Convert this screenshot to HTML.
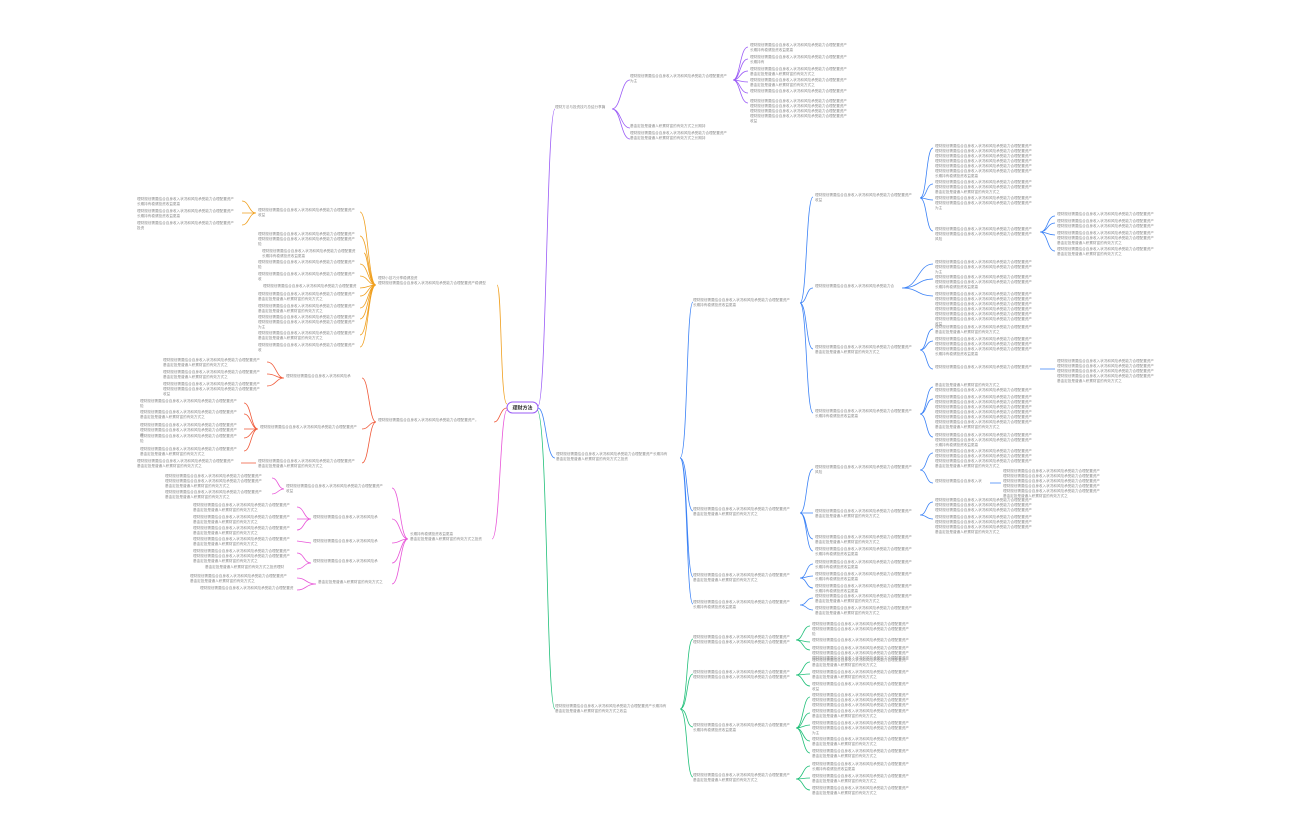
<!DOCTYPE html>
<html><head><meta charset="utf-8"><style>
html,body{margin:0;padding:0;background:#fff;}
svg{display:block}
text{font-family:"Liberation Sans","Noto Sans CJK SC",sans-serif;font-size:3.6px;fill:#8c8c8c}
path{fill:none;stroke-width:0.8}
</style></head><body>
<svg width="1296" height="840" viewBox="0 0 1296 840" xmlns="http://www.w3.org/2000/svg">
<g stroke="#9b5cf6"><path d="M538 406 C546.5 406 546.5 109 555 109 M612 109 C621 109 621 80 630 80 M612 109 C621 109 621 128 630 128 M612 109 C621 109 621 139 630 139 M733 80 C740 80 740 47 748 47 M733 80 C740 80 740 59 748 59 M733 80 C740 80 740 71 748 71 M733 80 C740 80 740 82 748 82 M733 80 C740 80 740 93 748 93 M733 80 C740 80 740 103 748 103"/></g>
<g stroke="#3b82f6"><path d="M538 408 C546 408 546 458 555 458 M680 458 C688 458 686 302 693 302 M680 458 C688 458 686 511 693 511 M680 458 C688 458 686 577 693 577 M680 458 C688 458 686 604 693 604
M800 303 C807 303 806 197 813 197 M800 303 C807 303 806 288 813 288 M800 303 C807 303 806 349 813 349 M800 303 C807 303 806 413 813 413
M920 198 C927 198 926 148 933 148 M920 198 C927 198 926 184 933 184 M920 198 C927 198 926 200 933 200 M920 198 C927 198 926 231 933 231
M1040 232 C1048 232 1047 216 1055 216 M1040 232 C1048 232 1047 223 1055 223 M1040 232 C1048 232 1047 235 1055 235 M1040 232 C1048 232 1047 251 1055 251
M902 288 C918 288 918 264 933 264 M902 288 C918 288 918 279 933 279 M902 288 C918 288 918 296 933 296
M920 350 C927 350 926 329 933 329 M920 350 C927 350 926 341 933 341 M920 350 C927 350 926 369 933 369 M1040 369 L1055 369
M920 414 C927 414 926 387 933 387 M920 414 C927 414 926 399 933 399 M920 414 C927 414 926 437 933 437
M800 513 C807 513 806 469 813 469 M800 513 C807 513 806 513 813 513 M800 513 C807 513 806 539 813 539 M800 513 C807 513 806 551 813 551
M920 470 C927 470 926 453 933 453 M920 470 C927 470 926 483 933 483 M990 483 L1001 483
M920 515 C927 515 926 502 933 502 M920 515 C927 515 926 519 933 519
M800 578 C807 578 806 564 813 564 M800 578 C807 578 806 576 813 576 M800 578 C807 578 806 588 813 588
M800 605 C807 605 806 598 813 598 M800 605 C807 605 806 610 813 610"/></g>
<g stroke="#22c07a"><path d="M537 410 C548 410 546 709 555 709 M680 709 C688 709 686 639 693 639 M680 709 C688 709 686 674 693 674 M680 709 C688 709 686 727 693 727 M680 709 C688 709 686 777 693 777
M796 640 C803 640 803 626 810 626 M796 640 C803 640 803 642 810 642 M796 640 C803 640 803 650 810 650
M796 675 C803 675 803 662 810 662 M796 675 C803 675 803 674 810 674 M796 675 C803 675 803 686 810 686
M796 728 C803 728 803 697 810 697 M796 728 C803 728 803 713 810 713 M796 728 C803 728 803 725 810 725 M796 728 C803 728 803 741 810 741 M796 728 C803 728 803 753 810 753
M796 779 C803 779 803 766 810 766 M796 779 C803 779 803 778 810 778 M796 779 C803 779 803 790 810 790"/></g>
<g stroke="#f0a020"><path d="M507 404 C500 404 502 285 497 285 M376 285 C368 285 368 212 360 212 M376 285 C368 285 368 236 360 236 M376 285 C368 285 368 253 364 253 M376 285 C368 285 368 264 360 264 M376 285 C368 285 368 276 360 276 M376 285 C368 285 368 288 360 288 M376 285 C368 285 368 296 360 296 M376 285 C368 285 368 308 360 308 M376 285 C368 285 368 319 360 319 M376 285 C368 285 368 335 360 335 M376 285 C368 285 368 347 360 347
M256 213 C249 213 249 201 242 201 M256 213 L242 213 M256 213 C249 213 249 225 242 225"/></g>
<g stroke="#f05a3a"><path d="M507 408 C500 408 500 422 494 422 M376 422 C369 422 369 378 362 378 M376 422 C369 422 369 429 362 429 M376 422 C369 422 369 463 362 463
M284 378 C276 378 276 362 267 362 M284 378 C276 378 276 374 267 374 M284 378 C276 378 276 386 267 386
M258 429 C251 429 251 403 244 403 M258 429 C251 429 251 414 244 414 M258 429 L244 429 M258 429 C251 429 251 438 244 438 M258 429 C251 429 251 451 244 451 M256 463 L241 463"/></g>
<g stroke="#e855d8"><path d="M507 410 C500 410 500 539 492 539 M408 539 C400 539 400 488 392 488 M408 539 C400 539 400 519 392 519 M408 539 C400 539 400 543 392 543 M408 539 C400 539 400 563 392 563 M408 539 C400 539 400 584 392 584
M284 489 C278 489 278 478 272 478 M284 489 C278 489 278 494 272 494
M311 519 C304 519 304 507 297 507 M311 519 L297 519 M311 519 C304 519 304 530 297 530 M311 543 L297 541 M311 563 C304 563 304 553 297 553 M311 563 C304 563 304 569 297 569 M316 584 C306 584 306 578 297 578 M316 584 C306 584 306 590 297 590"/></g>

<rect x="507" y="402" width="31" height="11" rx="5.5" fill="#fff" stroke="#9b5cf6" stroke-width="1"/>
<text x="522.5" y="409.5" text-anchor="middle" style="font-size:5px;font-weight:bold;fill:#333">理财方法</text>

<text x="555" y="108">理财方法与投资技巧总结分享篇</text>
<text x="630" y="77">理财规划需要结合自身收入状况和风险承受能力合理配置资产<tspan x="630" dy="5">为主</tspan></text>
<text x="630" y="127">基金定投是普通人积累财富的有效方式之长期持</text>
<text x="630" y="134">理财规划需要结合自身收入状况和风险承受能力合理配置资产<tspan x="630" dy="5">基金定投是普通人积累财富的有效方式之长期持</tspan></text>
<text x="750" y="46">理财规划需要结合自身收入状况和风险承受能力合理配置资产<tspan x="750" dy="5">长期持有稳健投资收益更高</tspan></text>
<text x="750" y="58">理财规划需要结合自身收入状况和风险承受能力合理配置资产<tspan x="750" dy="5">长期持有</tspan></text>
<text x="750" y="70">理财规划需要结合自身收入状况和风险承受能力合理配置资产<tspan x="750" dy="5">基金定投是普通人积累财富的有效方式之</tspan></text>
<text x="750" y="81">理财规划需要结合自身收入状况和风险承受能力合理配置资产<tspan x="750" dy="5">基金定投是普通人积累财富的有效方式之</tspan></text>
<text x="750" y="92">理财规划需要结合自身收入状况和风险承受能力合理配置资产</text>
<text x="750" y="102">理财规划需要结合自身收入状况和风险承受能力合理配置资产<tspan x="750" dy="5">理财规划需要结合自身收入状况和风险承受能力合理配置资产</tspan><tspan x="750" dy="5">理财规划需要结合自身收入状况和风险承受能力合理配置资产</tspan><tspan x="750" dy="5">理财规划需要结合自身收入状况和风险承受能力合理配置资产</tspan><tspan x="750" dy="5">收益</tspan></text>

<text x="556" y="455">理财规划需要结合自身收入状况和风险承受能力合理配置资产长期持有<tspan x="556" dy="5">基金定投是普通人积累财富的有效方式之投资</tspan></text>
<text x="693" y="301">理财规划需要结合自身收入状况和风险承受能力合理配置资产<tspan x="693" dy="5">长期持有稳健投资收益更高</tspan></text>
<text x="693" y="510">理财规划需要结合自身收入状况和风险承受能力合理配置资产<tspan x="693" dy="5">基金定投是普通人积累财富的有效方式之</tspan></text>
<text x="693" y="576">理财规划需要结合自身收入状况和风险承受能力合理配置资产<tspan x="693" dy="5">基金定投是普通人积累财富的有效方式之</tspan></text>
<text x="693" y="603">理财规划需要结合自身收入状况和风险承受能力合理配置资产<tspan x="693" dy="5">长期持有稳健投资收益更高</tspan></text>
<text x="815" y="196">理财规划需要结合自身收入状况和风险承受能力合理配置资产<tspan x="815" dy="5">收益</tspan></text>
<text x="815" y="287">理财规划需要结合自身收入状况和风险承受能力合</text>
<text x="815" y="348">理财规划需要结合自身收入状况和风险承受能力合理配置资产<tspan x="815" dy="5">基金定投是普通人积累财富的有效方式之</tspan></text>
<text x="815" y="412">理财规划需要结合自身收入状况和风险承受能力合理配置资产<tspan x="815" dy="5">长期持有稳健投资收益更高</tspan></text>
<text x="935" y="147">理财规划需要结合自身收入状况和风险承受能力合理配置资产<tspan x="935" dy="5">理财规划需要结合自身收入状况和风险承受能力合理配置资产</tspan><tspan x="935" dy="5">理财规划需要结合自身收入状况和风险承受能力合理配置资产</tspan><tspan x="935" dy="5">理财规划需要结合自身收入状况和风险承受能力合理配置资产</tspan><tspan x="935" dy="5">理财规划需要结合自身收入状况和风险承受能力合理配置资产</tspan><tspan x="935" dy="5">理财规划需要结合自身收入状况和风险承受能力合理配置资产</tspan><tspan x="935" dy="5">长期持有稳健投资收益更高</tspan></text>
<text x="935" y="183">理财规划需要结合自身收入状况和风险承受能力合理配置资产<tspan x="935" dy="5">理财规划需要结合自身收入状况和风险承受能力合理配置资产</tspan><tspan x="935" dy="5">基金定投是普通人积累财富的有效方式之</tspan></text>
<text x="935" y="199">理财规划需要结合自身收入状况和风险承受能力合理配置资产<tspan x="935" dy="5">理财规划需要结合自身收入状况和风险承受能力合理配置资产</tspan><tspan x="935" dy="5">为主</tspan></text>
<text x="935" y="230">理财规划需要结合自身收入状况和风险承受能力合理配置资产<tspan x="935" dy="5">理财规划需要结合自身收入状况和风险承受能力合理配置资产</tspan><tspan x="935" dy="5">风险</tspan></text>
<text x="1057" y="215">理财规划需要结合自身收入状况和风险承受能力合理配置资产</text>
<text x="1057" y="222">理财规划需要结合自身收入状况和风险承受能力合理配置资产<tspan x="1057" dy="5">理财规划需要结合自身收入状况和风险承受能力合理配置资产</tspan></text>
<text x="1057" y="234">理财规划需要结合自身收入状况和风险承受能力合理配置资产<tspan x="1057" dy="5">理财规划需要结合自身收入状况和风险承受能力合理配置资产</tspan><tspan x="1057" dy="5">基金定投是普通人积累财富的有效方式之</tspan></text>
<text x="1057" y="250">理财规划需要结合自身收入状况和风险承受能力合理配置资产<tspan x="1057" dy="5">基金定投是普通人积累财富的有效方式之</tspan></text>
<text x="935" y="263">理财规划需要结合自身收入状况和风险承受能力合理配置资产<tspan x="935" dy="5">理财规划需要结合自身收入状况和风险承受能力合理配置资产</tspan><tspan x="935" dy="5">为主</tspan></text>
<text x="935" y="278">理财规划需要结合自身收入状况和风险承受能力合理配置资产<tspan x="935" dy="5">理财规划需要结合自身收入状况和风险承受能力合理配置资产</tspan><tspan x="935" dy="5">长期持有稳健投资收益更高</tspan></text>
<text x="935" y="295">理财规划需要结合自身收入状况和风险承受能力合理配置资产<tspan x="935" dy="5">理财规划需要结合自身收入状况和风险承受能力合理配置资产</tspan><tspan x="935" dy="5">理财规划需要结合自身收入状况和风险承受能力合理配置资产</tspan><tspan x="935" dy="5">理财规划需要结合自身收入状况和风险承受能力合理配置资产</tspan><tspan x="935" dy="5">理财规划需要结合自身收入状况和风险承受能力合理配置资产</tspan><tspan x="935" dy="5">理财规划需要结合自身收入状况和风险承受能力合理配置资产</tspan><tspan x="935" dy="5">收益</tspan></text>
<text x="935" y="328">理财规划需要结合自身收入状况和风险承受能力合理配置资产<tspan x="935" dy="5">基金定投是普通人积累财富的有效方式之</tspan></text>
<text x="935" y="340">理财规划需要结合自身收入状况和风险承受能力合理配置资产<tspan x="935" dy="5">理财规划需要结合自身收入状况和风险承受能力合理配置资产</tspan><tspan x="935" dy="5">理财规划需要结合自身收入状况和风险承受能力合理配置资产</tspan><tspan x="935" dy="5">长期持有稳健投资收益更高</tspan></text>
<text x="935" y="368">理财规划需要结合自身收入状况和风险承受能力合理配置资产</text>
<text x="1057" y="362">理财规划需要结合自身收入状况和风险承受能力合理配置资产<tspan x="1057" dy="5">理财规划需要结合自身收入状况和风险承受能力合理配置资产</tspan><tspan x="1057" dy="5">理财规划需要结合自身收入状况和风险承受能力合理配置资产</tspan><tspan x="1057" dy="5">理财规划需要结合自身收入状况和风险承受能力合理配置资产</tspan><tspan x="1057" dy="5">基金定投是普通人积累财富的有效方式之</tspan></text>
<text x="935" y="386">基金定投是普通人积累财富的有效方式之<tspan x="935" dy="5">理财规划需要结合自身收入状况和风险承受能力合理配置资产</tspan></text>
<text x="935" y="398">理财规划需要结合自身收入状况和风险承受能力合理配置资产<tspan x="935" dy="5">理财规划需要结合自身收入状况和风险承受能力合理配置资产</tspan><tspan x="935" dy="5">理财规划需要结合自身收入状况和风险承受能力合理配置资产</tspan><tspan x="935" dy="5">理财规划需要结合自身收入状况和风险承受能力合理配置资产</tspan><tspan x="935" dy="5">理财规划需要结合自身收入状况和风险承受能力合理配置资产</tspan><tspan x="935" dy="5">理财规划需要结合自身收入状况和风险承受能力合理配置资产</tspan><tspan x="935" dy="5">基金定投是普通人积累财富的有效方式之</tspan></text>
<text x="935" y="436">理财规划需要结合自身收入状况和风险承受能力合理配置资产<tspan x="935" dy="5">理财规划需要结合自身收入状况和风险承受能力合理配置资产</tspan><tspan x="935" dy="5">长期持有稳健投资收益更高</tspan></text>
<text x="815" y="468">理财规划需要结合自身收入状况和风险承受能力合理配置资产<tspan x="815" dy="5">风险</tspan></text>
<text x="815" y="512">理财规划需要结合自身收入状况和风险承受能力合理配置资产<tspan x="815" dy="5">基金定投是普通人积累财富的有效方式之</tspan></text>
<text x="815" y="538">理财规划需要结合自身收入状况和风险承受能力合理配置资产<tspan x="815" dy="5">基金定投是普通人积累财富的有效方式之</tspan></text>
<text x="815" y="550">理财规划需要结合自身收入状况和风险承受能力合理配置资产<tspan x="815" dy="5">长期持有稳健投资收益更高</tspan></text>
<text x="935" y="452">理财规划需要结合自身收入状况和风险承受能力合理配置资产<tspan x="935" dy="5">理财规划需要结合自身收入状况和风险承受能力合理配置资产</tspan><tspan x="935" dy="5">理财规划需要结合自身收入状况和风险承受能力合理配置资产</tspan><tspan x="935" dy="5">基金定投是普通人积累财富的有效方式之</tspan></text>
<text x="935" y="482">理财规划需要结合自身收入状</text>
<text x="1003" y="472">理财规划需要结合自身收入状况和风险承受能力合理配置资产<tspan x="1003" dy="5">理财规划需要结合自身收入状况和风险承受能力合理配置资产</tspan><tspan x="1003" dy="5">理财规划需要结合自身收入状况和风险承受能力合理配置资产</tspan><tspan x="1003" dy="5">理财规划需要结合自身收入状况和风险承受能力合理配置资产</tspan><tspan x="1003" dy="5">理财规划需要结合自身收入状况和风险承受能力合理配置资产</tspan><tspan x="1003" dy="5">基金定投是普通人积累财富的有效方式之</tspan></text>
<text x="935" y="501">理财规划需要结合自身收入状况和风险承受能力合理配置资产<tspan x="935" dy="5">理财规划需要结合自身收入状况和风险承受能力合理配置资产</tspan><tspan x="935" dy="5">理财规划需要结合自身收入状况和风险承受能力合理配置资产</tspan></text>
<text x="935" y="518">理财规划需要结合自身收入状况和风险承受能力合理配置资产<tspan x="935" dy="5">理财规划需要结合自身收入状况和风险承受能力合理配置资产</tspan><tspan x="935" dy="5">理财规划需要结合自身收入状况和风险承受能力合理配置资产</tspan><tspan x="935" dy="5">基金定投是普通人积累财富的有效方式之</tspan></text>
<text x="815" y="563">理财规划需要结合自身收入状况和风险承受能力合理配置资产<tspan x="815" dy="5">长期持有稳健投资收益更高</tspan></text>
<text x="815" y="575">理财规划需要结合自身收入状况和风险承受能力合理配置资产<tspan x="815" dy="5">长期持有稳健投资收益更高</tspan></text>
<text x="815" y="587">理财规划需要结合自身收入状况和风险承受能力合理配置资产<tspan x="815" dy="5">长期持有稳健投资收益更高</tspan></text>
<text x="815" y="597">理财规划需要结合自身收入状况和风险承受能力合理配置资产<tspan x="815" dy="5">基金定投是普通人积累财富的有效方式之</tspan></text>
<text x="815" y="609">理财规划需要结合自身收入状况和风险承受能力合理配置资产<tspan x="815" dy="5">基金定投是普通人积累财富的有效方式之</tspan></text>

<text x="555" y="707">理财规划需要结合自身收入状况和风险承受能力合理配置资产长期持有<tspan x="555" dy="5">基金定投是普通人积累财富的有效方式之收益</tspan></text>
<text x="693" y="638">理财规划需要结合自身收入状况和风险承受能力合理配置资产<tspan x="693" dy="5">理财规划需要结合自身收入状况和风险承受能力合理配置资产</tspan></text>
<text x="693" y="673">理财规划需要结合自身收入状况和风险承受能力合理配置资产<tspan x="693" dy="5">理财规划需要结合自身收入状况和风险承受能力合理配置资产</tspan></text>
<text x="693" y="726">理财规划需要结合自身收入状况和风险承受能力合理配置资产<tspan x="693" dy="5">长期持有稳健投资收益更高</tspan></text>
<text x="693" y="776">理财规划需要结合自身收入状况和风险承受能力合理配置资产<tspan x="693" dy="5">基金定投是普通人积累财富的有效方式之</tspan></text>
<text x="812" y="625">理财规划需要结合自身收入状况和风险承受能力合理配置资产<tspan x="812" dy="5">理财规划需要结合自身收入状况和风险承受能力合理配置资产</tspan><tspan x="812" dy="5">险</tspan></text>
<text x="812" y="641">理财规划需要结合自身收入状况和风险承受能力合理配置资产</text>
<text x="812" y="649">理财规划需要结合自身收入状况和风险承受能力合理配置资产<tspan x="812" dy="5">理财规划需要结合自身收入状况和风险承受能力合理配置资产</tspan><tspan x="812" dy="5">理财规划需要结合自身收入状况和风险承受能力合理配置资产</tspan></text>
<text x="812" y="661">理财规划需要结合自身收入状况和风险承受能力合理配置资产<tspan x="812" dy="5">基金定投是普通人积累财富的有效方式之</tspan></text>
<text x="812" y="673">理财规划需要结合自身收入状况和风险承受能力合理配置资产<tspan x="812" dy="5">基金定投是普通人积累财富的有效方式之</tspan></text>
<text x="812" y="685">理财规划需要结合自身收入状况和风险承受能力合理配置资产<tspan x="812" dy="5">收益</tspan></text>
<text x="812" y="696">理财规划需要结合自身收入状况和风险承受能力合理配置资产<tspan x="812" dy="5">理财规划需要结合自身收入状况和风险承受能力合理配置资产</tspan><tspan x="812" dy="5">理财规划需要结合自身收入状况和风险承受能力合理配置资产</tspan></text>
<text x="812" y="712">理财规划需要结合自身收入状况和风险承受能力合理配置资产<tspan x="812" dy="5">基金定投是普通人积累财富的有效方式之</tspan></text>
<text x="812" y="724">理财规划需要结合自身收入状况和风险承受能力合理配置资产<tspan x="812" dy="5">理财规划需要结合自身收入状况和风险承受能力合理配置资产</tspan><tspan x="812" dy="5">为主</tspan></text>
<text x="812" y="740">理财规划需要结合自身收入状况和风险承受能力合理配置资产<tspan x="812" dy="5">基金定投是普通人积累财富的有效方式之</tspan></text>
<text x="812" y="752">理财规划需要结合自身收入状况和风险承受能力合理配置资产<tspan x="812" dy="5">基金定投是普通人积累财富的有效方式之</tspan></text>
<text x="812" y="765">理财规划需要结合自身收入状况和风险承受能力合理配置资产<tspan x="812" dy="5">长期持有稳健投资收益更高</tspan></text>
<text x="812" y="777">理财规划需要结合自身收入状况和风险承受能力合理配置资产<tspan x="812" dy="5">基金定投是普通人积累财富的有效方式之</tspan></text>
<text x="812" y="789">理财规划需要结合自身收入状况和风险承受能力合理配置资产<tspan x="812" dy="5">基金定投是普通人积累财富的有效方式之</tspan></text>

<text x="378" y="279">理财小技巧分享稳健投资<tspan x="378" dy="5">理财规划需要结合自身收入状况和风险承受能力合理配置资产稳健型</tspan></text>
<text x="258" y="211">理财规划需要结合自身收入状况和风险承受能力合理配置资产<tspan x="258" dy="5">收益</tspan></text>
<text x="258" y="235">理财规划需要结合自身收入状况和风险承受能力合理配置资产<tspan x="258" dy="5">理财规划需要结合自身收入状况和风险承受能力合理配置资产</tspan><tspan x="258" dy="5">险</tspan></text>
<text x="262" y="252">理财规划需要结合自身收入状况和风险承受能力合理配置资<tspan x="262" dy="5">长期持有稳健投资收益更高</tspan></text>
<text x="258" y="263">理财规划需要结合自身收入状况和风险承受能力合理配置资产<tspan x="258" dy="5">险</tspan></text>
<text x="258" y="275">理财规划需要结合自身收入状况和风险承受能力合理配置资产<tspan x="258" dy="5">收</tspan></text>
<text x="263" y="287">理财规划需要结合自身收入状况和风险承受能力合理配置资</text>
<text x="258" y="295">理财规划需要结合自身收入状况和风险承受能力合理配置资产<tspan x="258" dy="5">基金定投是普通人积累财富的有效方式之</tspan></text>
<text x="258" y="307">理财规划需要结合自身收入状况和风险承受能力合理配置资产<tspan x="258" dy="5">基金定投是普通人积累财富的有效方式之</tspan></text>
<text x="258" y="318">理财规划需要结合自身收入状况和风险承受能力合理配置资产<tspan x="258" dy="5">理财规划需要结合自身收入状况和风险承受能力合理配置资产</tspan><tspan x="258" dy="5">为主</tspan></text>
<text x="258" y="334">理财规划需要结合自身收入状况和风险承受能力合理配置资产<tspan x="258" dy="5">基金定投是普通人积累财富的有效方式之</tspan></text>
<text x="258" y="346">理财规划需要结合自身收入状况和风险承受能力合理配置资产<tspan x="258" dy="5">收</tspan></text>
<text x="137" y="200">理财规划需要结合自身收入状况和风险承受能力合理配置资产<tspan x="137" dy="5">长期持有稳健投资收益更高</tspan></text>
<text x="137" y="212">理财规划需要结合自身收入状况和风险承受能力合理配置资产<tspan x="137" dy="5">长期持有稳健投资收益更高</tspan></text>
<text x="137" y="224">理财规划需要结合自身收入状况和风险承受能力合理配置资产<tspan x="137" dy="5">投资</tspan></text>

<text x="378" y="421">理财规划需要结合自身收入状况和风险承受能力合理配置资产。</text>
<text x="286" y="377">理财规划需要结合自身收入状况和风险承</text>
<text x="260" y="428">理财规划需要结合自身收入状况和风险承受能力合理配置资产</text>
<text x="258" y="462">理财规划需要结合自身收入状况和风险承受能力合理配置资产<tspan x="258" dy="5">基金定投是普通人积累财富的有效方式之</tspan></text>
<text x="163" y="361">理财规划需要结合自身收入状况和风险承受能力合理配置资产<tspan x="163" dy="5">基金定投是普通人积累财富的有效方式之</tspan></text>
<text x="163" y="373">理财规划需要结合自身收入状况和风险承受能力合理配置资产<tspan x="163" dy="5">基金定投是普通人积累财富的有效方式之</tspan></text>
<text x="163" y="385">理财规划需要结合自身收入状况和风险承受能力合理配置资产<tspan x="163" dy="5">理财规划需要结合自身收入状况和风险承受能力合理配置资产</tspan><tspan x="163" dy="5">收益</tspan></text>
<text x="140" y="402">理财规划需要结合自身收入状况和风险承受能力合理配置资产<tspan x="140" dy="5">险</tspan></text>
<text x="140" y="413">理财规划需要结合自身收入状况和风险承受能力合理配置资产<tspan x="140" dy="5">基金定投是普通人积累财富的有效方式之</tspan></text>
<text x="140" y="426">理财规划需要结合自身收入状况和风险承受能力合理配置资产<tspan x="140" dy="5">理财规划需要结合自身收入状况和风险承受能力合理配置资产</tspan><tspan x="140" dy="5">收</tspan></text>
<text x="140" y="437">理财规划需要结合自身收入状况和风险承受能力合理配置资产<tspan x="140" dy="5">险</tspan></text>
<text x="140" y="450">理财规划需要结合自身收入状况和风险承受能力合理配置资产<tspan x="140" dy="5">基金定投是普通人积累财富的有效方式之</tspan></text>
<text x="137" y="462">理财规划需要结合自身收入状况和风险承受能力合理配置资产<tspan x="137" dy="5">基金定投是普通人积累财富的有效方式之</tspan></text>

<text x="410" y="535">长期持有稳健投资收益更高<tspan x="410" dy="5">基金定投是普通人积累财富的有效方式之投资</tspan></text>
<text x="286" y="487">理财规划需要结合自身收入状况和风险承受能力合理配置资产<tspan x="286" dy="5">收益</tspan></text>
<text x="313" y="518">理财规划需要结合自身收入状况和风险承</text>
<text x="313" y="542">理财规划需要结合自身收入状况和风险承</text>
<text x="313" y="562">理财规划需要结合自身收入状况和风险承</text>
<text x="318" y="583">基金定投是普通人积累财富的有效方式之</text>
<text x="165" y="477">理财规划需要结合自身收入状况和风险承受能力合理配置资产<tspan x="165" dy="5">理财规划需要结合自身收入状况和风险承受能力合理配置资产</tspan><tspan x="165" dy="5">基金定投是普通人积累财富的有效方式之</tspan></text>
<text x="165" y="493">理财规划需要结合自身收入状况和风险承受能力合理配置资产<tspan x="165" dy="5">基金定投是普通人积累财富的有效方式之</tspan></text>
<text x="193" y="506">理财规划需要结合自身收入状况和风险承受能力合理配置资产<tspan x="193" dy="5">基金定投是普通人积累财富的有效方式之</tspan></text>
<text x="193" y="518">理财规划需要结合自身收入状况和风险承受能力合理配置资产<tspan x="193" dy="5">基金定投是普通人积累财富的有效方式之</tspan></text>
<text x="193" y="529">理财规划需要结合自身收入状况和风险承受能力合理配置资产<tspan x="193" dy="5">基金定投是普通人积累财富的有效方式之</tspan></text>
<text x="193" y="540">理财规划需要结合自身收入状况和风险承受能力合理配置资产<tspan x="193" dy="5">基金定投是普通人积累财富的有效方式之</tspan></text>
<text x="193" y="552">理财规划需要结合自身收入状况和风险承受能力合理配置资产<tspan x="193" dy="5">理财规划需要结合自身收入状况和风险承受能力合理配置资产</tspan><tspan x="193" dy="5">基金定投是普通人积累财富的有效方式之</tspan></text>
<text x="205" y="568">基金定投是普通人积累财富的有效方式之投资理财</text>
<text x="190" y="577">理财规划需要结合自身收入状况和风险承受能力合理配置资产<tspan x="190" dy="5">基金定投是普通人积累财富的有效方式之</tspan></text>
<text x="200" y="589">理财规划需要结合自身收入状况和风险承受能力合理配置资</text>
</svg>
</body></html>
